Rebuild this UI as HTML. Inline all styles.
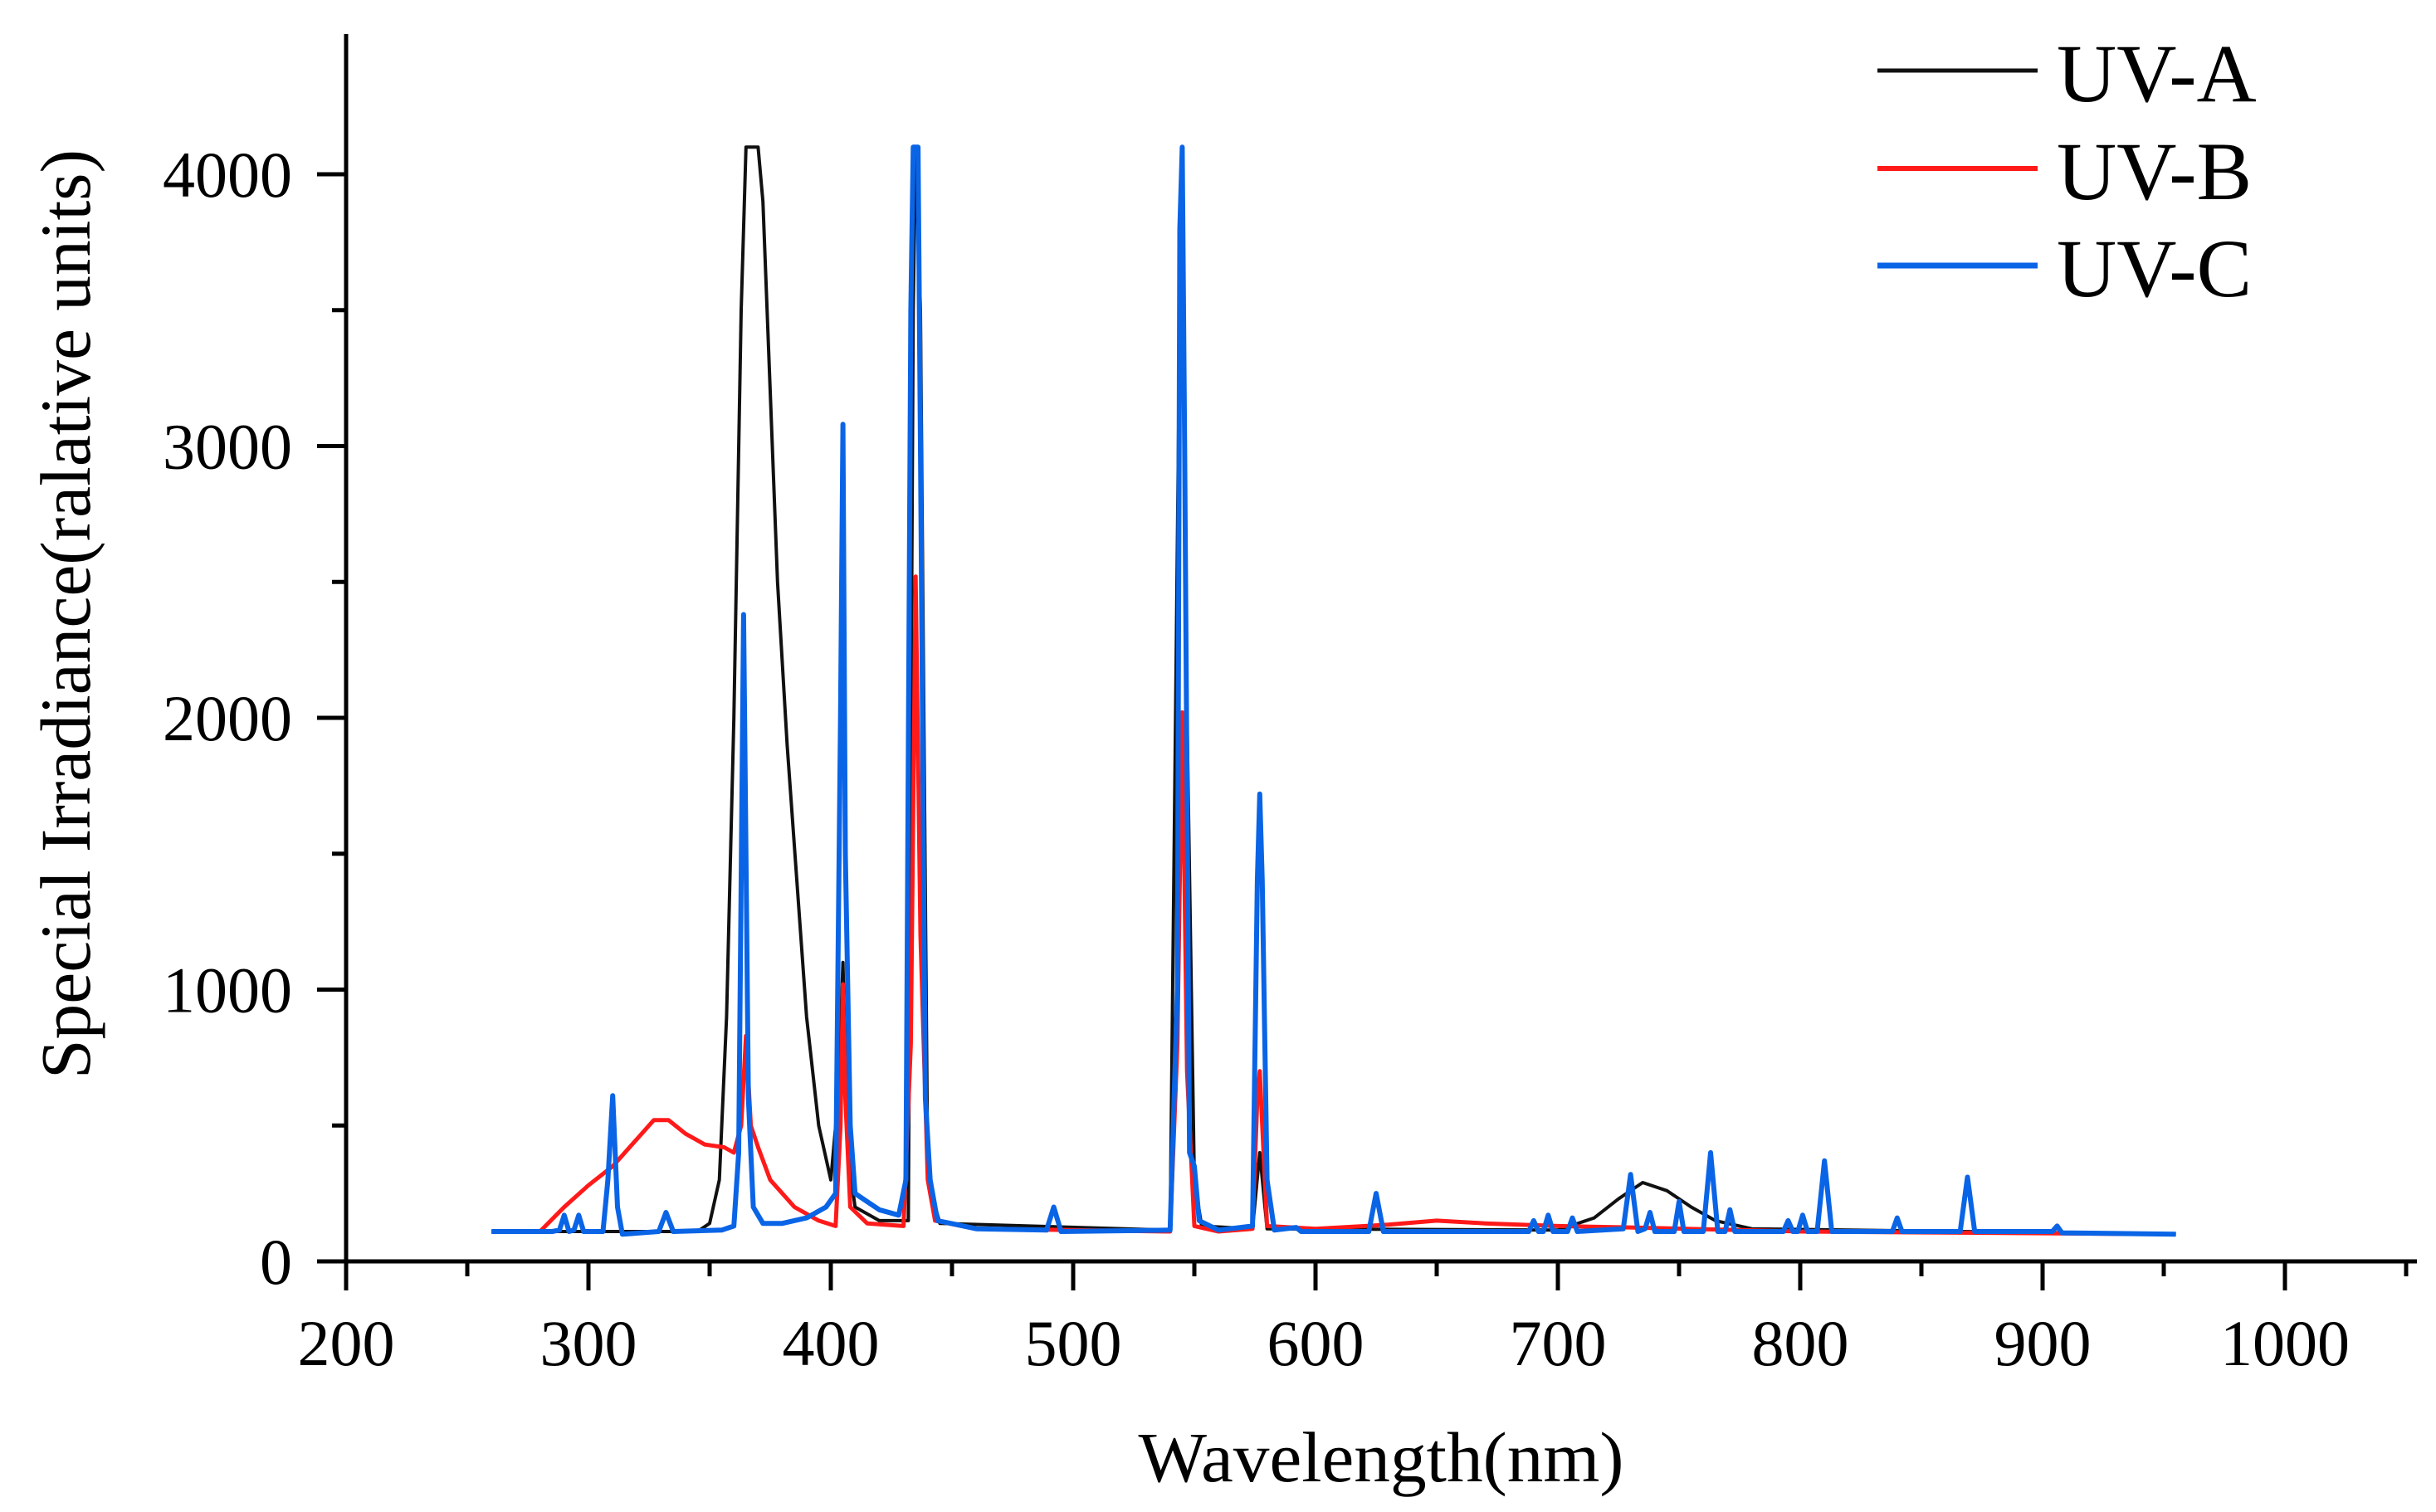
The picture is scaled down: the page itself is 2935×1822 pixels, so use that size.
<!DOCTYPE html>
<html><head><meta charset="utf-8"><style>
html,body{margin:0;padding:0;background:#fff;}
svg{display:block;}
text{font-family:"Liberation Serif",serif;fill:#000;}
</style></head><body>
<svg id="chart" width="2935" height="1822" viewBox="0 0 2935 1822" xmlns="http://www.w3.org/2000/svg">
<g id="axes"></g>
<g id="series"></g>
<g id="legend"></g>
<text transform="translate(108,740) rotate(-90)" text-anchor="middle" font-size="86" textLength="1120" lengthAdjust="spacingAndGlyphs">Special Irradiance(ralative units)</text>
<text x="1664" y="1785" text-anchor="middle" font-size="86" textLength="585" lengthAdjust="spacingAndGlyphs">Wavelength(nm)</text>
</svg>
<script>
const xTicks=[200,300,400,500,600,700,800,900,1000];
const yTicks=[0,1000,2000,3000,4000];
const seriesNames=["UV-A","UV-B","UV-C"];
const uvaWl=[260,345,350,354,357,360,363,365,370,372,375,378,382,386,390,395,400,403,405,407,410,420,432,434,435,437,440,445,540,544,545,547,550,553,574,577,580,700,715,725,735,745,755,765,780,955];
const uvaVal=[110,110,140,300,900,2000,3500,4100,4100,3900,3200,2500,1900,1400,900,500,300,600,1100,400,200,150,150,3500,4100,3500,300,140,115,3500,4100,2000,300,130,120,400,120,115,160,230,290,260,200,150,120,100];
const uvbWl=[260,280,290,300,310,320,327,333,340,348,356,360,363,365,367,370,375,385,395,402,404,405,406,408,415,430,433,435,437,440,443,460,540,543,545,547,550,560,574,576,577,578,580,600,630,650,670,700,730,800,955];
const uvbVal=[110,110,200,280,350,450,520,520,470,430,420,400,500,830,500,420,300,200,150,130,500,1020,600,200,140,130,800,2520,1200,300,150,120,110,800,2020,700,130,110,120,600,700,500,130,120,135,150,140,130,125,110,100];
const uvcWl=[260,285,288,290,292,294,296,298,306,308,310,312,314,329,332,335,355,360,362,364,366,368,372,380,390,398,402,404,405,406,408,410,415,420,428,431,433,434,436,437,439,441,444,460,489,492,495,540,543,544,545,546,548,550,552,560,574,576,577,578,580,583,592,594,622,625,628,688,690,692,694,696,698,704,706,708,727,730,733,736,738,740,748,750,752,760,763,766,769,771,773,793,795,797,799,801,803,807,810,813,838,840,842,866,869,872,904,906,908,955];
const uvcVal=[110,110,115,170,110,115,170,110,110,300,610,200,100,110,180,110,115,130,400,2380,600,200,140,140,160,200,250,2000,3080,1500,500,250,220,190,170,300,3500,4100,4100,3000,600,300,150,120,115,200,110,115,1000,3800,4100,3000,400,350,150,115,130,1400,1720,1400,300,115,125,110,110,250,110,110,150,110,110,170,110,110,160,110,120,320,110,120,180,110,110,220,110,110,400,110,110,190,110,110,150,110,110,170,110,110,370,110,110,160,110,110,310,110,110,130,105,100];

const X0=417, PX_PER_NM=2.92, Y0=1520, PX_PER_UNIT=0.3275;
function xs(w){return X0+(w-200)*PX_PER_NM;}
function ys(v){return Y0-v*PX_PER_UNIT;}
const NS="http://www.w3.org/2000/svg";
function mk(tag,attrs,parent){const e=document.createElementNS(NS,tag);for(const k in attrs)e.setAttribute(k,attrs[k]);parent.appendChild(e);return e;}
const axes=document.getElementById('axes');
let e;
e=mk('line',{x1:X0,y1:41,x2:X0,y2:1555,stroke:'#000','stroke-width':5},axes);


e=mk('line',{x1:382,y1:Y0,x2:2912,y2:Y0,stroke:'#000','stroke-width':5},axes);


xTicks.forEach(t=>{
  const x=xs(t);
  const tk=mk('line',{x1:x,y1:Y0,x2:x,y2:Y0+35,stroke:'#000','stroke-width':5},axes);
  
  
  const lb=mk('text',{x:x,y:1645,'text-anchor':'middle','font-size':78},axes);
  lb.textContent=t;
  
  
});
for(let t=250;t<=1050;t+=100){
  const x=xs(t);
  const tk=mk('line',{x1:x,y1:Y0,x2:x,y2:Y0+18,stroke:'#000','stroke-width':5},axes);
  
  
}
yTicks.forEach(t=>{
  const y=ys(t);
  const tk=mk('line',{x1:382,y1:y,x2:X0,y2:y,stroke:'#000','stroke-width':5},axes);
  
  
  const lb=mk('text',{x:352,y:y+27,'text-anchor':'end','font-size':78},axes);
  lb.textContent=t;
  
  
});
for(let t=500;t<=4000;t+=1000){
  const y=ys(t);
  const tk=mk('line',{x1:400,y1:y,x2:X0,y2:y,stroke:'#000','stroke-width':5},axes);
  
  
}
const colors=['#111','#ff1a1a','#0a64e6'];
const widths=[4,5,6];
const data=[[uvaWl,uvaVal],[uvbWl,uvbVal],[uvcWl,uvcVal]];
const sg=document.getElementById('series');
data.forEach((d,i)=>{
  let p='';
  d[0].forEach((w,j)=>{p+=(j?'L':'M')+xs(w).toFixed(1)+','+ys(d[1][j]).toFixed(1);});
  const path=mk('path',{d:p,fill:'none',stroke:colors[i],'stroke-width':widths[i],'stroke-linejoin':'round'},sg);
  
  
});
const lg=document.getElementById('legend');
const legY=[85,203,320];
seriesNames.forEach((n,i)=>{
  const ln=mk('line',{x1:2262,y1:legY[i],x2:2455,y2:legY[i],stroke:colors[i],'stroke-width':widths[i]+1},lg);
  
  
  const tx=mk('text',{x:2478,y:legY[i]+37,'font-size':100},lg);
  tx.textContent=n;
  
  
});
</script>
</body></html>
